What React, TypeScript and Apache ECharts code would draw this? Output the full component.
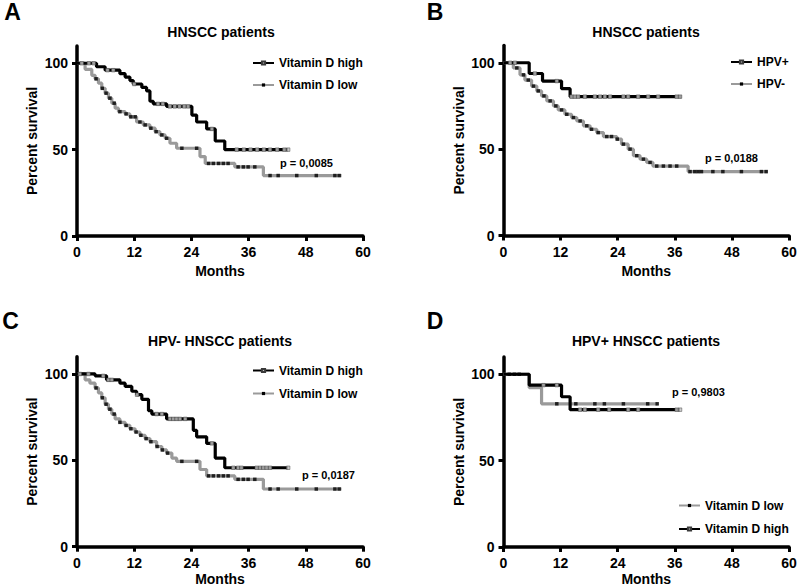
import React, { useEffect, useRef } from "react";
import * as echarts from "echarts";

const FONT = '"Liberation Sans", Arial, sans-serif';
const BLACK = "#000000";
const GRAY = "#9a9a9a";

const Y_TICKS = [0, 50, 100];
const X_MIN = 0;
const X_MAX = 60;
const X_STEP = 12;
const Y_MAX = 110;

// ---------- Panel A: HNSCC patients ----------
const A_HIGH_STEPS: number[][] = [
  [0, 100], [4.1, 98], [5.9, 96], [9, 94], [10.1, 92], [11.1, 90], [11.8, 88], [13.6, 86],
  [14.6, 84], [15.3, 78], [16, 76.5], [18.8, 75], [24.1, 70], [25.1, 66], [27.2, 62],
  [29, 55], [31, 50], [44.3, 50],
];
const A_HIGH_CENSOR = [1, 2.5, 3.5, 6.4, 7.6, 12, 17, 18, 19.5, 20.5, 21.5, 22.5, 23.3, 28.3, 33.5, 35, 36.4, 37.8, 39.2, 40.5, 42, 43.5, 44.3];
const A_LOW_STEPS: number[][] = [
  [0, 100], [1.7, 96.5], [3.1, 93], [3.8, 91], [4.5, 88.5], [5.2, 85.5], [5.9, 82.7], [6.6, 79.8],
  [7.3, 76.9], [8, 74], [8.7, 72], [10.1, 70.7], [11.1, 69], [12.5, 66], [13.9, 64.3], [15.3, 62.4],
  [16.4, 60.4], [17.4, 58.5], [18.5, 56.6], [19.5, 53.7], [20.9, 50.8], [25.8, 46], [26.9, 42],
  [33.1, 40], [39.1, 35], [55.5, 35],
];
const A_LOW_CENSOR = [4.0, 5.3, 6.1, 6.9, 7.8, 9.0, 10.3, 11.3, 12.2, 13.2, 14.3, 15.5, 16.6, 17.8, 18.8, 22, 25.1, 27.6, 28.6, 29.7, 30.7, 31.7, 33.8, 34.9, 35.9, 37.3, 40.5, 42.2, 46.1, 50.2, 54.1, 55];

// ---------- Panel B: HNSCC patients (HPV) ----------
const B_POS_STEPS: number[][] = [[0, 100], [5.4, 93.8], [8.2, 89.4], [12.2, 85], [14, 80.4], [37.4, 80.4]];
const B_POS_CENSOR = [1.4, 2.4, 6.6, 11.2, 14.3, 15, 15.7, 17.1, 19.2, 20.3, 21.3, 22.4, 25.2, 26.2, 28.3, 30.4, 32.5, 36.4, 37.1];
const B_NEG_STEPS: number[][] = [
  [0, 100], [2.07, 97], [3.47, 93], [4.5, 90], [5.9, 86.5], [7, 83.7], [8, 80.8], [9.1, 77.9],
  [10.5, 75], [11.5, 72.7], [12.9, 70.2], [14.3, 68.3], [15.4, 66.3], [16.8, 63.5], [18.2, 61.5],
  [19.6, 59.6], [21, 57.3], [23.8, 55.8], [24.8, 52.9], [26.2, 50], [27.3, 46.2], [28.7, 44.2],
  [30.1, 42.3], [31.4, 40.2], [38.8, 37], [55.5, 37],
];
const B_NEG_CENSOR = [2.8, 4.2, 5.2, 6.3, 7.3, 8.5, 9.8, 11, 12.2, 13.3, 14.7, 16.1, 17.5, 18.5, 19.9, 21.7, 22.7, 23.9, 25.2, 26.6, 28, 29.4, 30.8, 32.2, 33.6, 35, 36.4, 39.2, 40.2, 40.9, 41.6, 44, 46.1, 50, 54.2, 55.2];

// ---------- Panel C: HPV- HNSCC patients ----------
const C_HIGH_STEPS: number[][] = [
  [0, 100], [3.8, 98.9], [6.2, 96.6], [9, 94.7], [10.1, 92.8], [11.5, 90], [12.5, 88], [13.6, 85.3],
  [15, 78.7], [15.7, 76.8], [18.8, 74], [24.4, 67.4], [25.1, 63.6], [27.2, 59.8], [29, 51.3],
  [31, 45.7], [44.3, 45.7],
];
const C_HIGH_CENSOR = [0.6, 2.4, 5.5, 6.6, 7.3, 12.6, 16.7, 17.8, 19.5, 20.2, 20.9, 21.6, 22.7, 28.3, 32.8, 33.8, 34.5, 37.7, 38.4, 39.1, 39.8, 40.5, 44.3];
const C_LOW_STEPS: number[][] = [
  [0, 100], [1.7, 96.6], [2.7, 94.7], [3.8, 91.9], [4.5, 89], [5.2, 86.2], [5.9, 82.5], [6.6, 79.6],
  [7.3, 76.8], [8, 74], [9, 72], [10.1, 70.2], [11.1, 68.3], [12.2, 66.4], [13.2, 64.5], [14.3, 62.6],
  [15.3, 60.8], [16.7, 58], [17.8, 56], [18.8, 54.2], [19.9, 51.3], [20.9, 49.4], [25.8, 44.7],
  [27.2, 41], [33.1, 39], [39.1, 33.4], [55.5, 33.4],
];
const C_LOW_CENSOR = [4.0, 5.3, 6.1, 6.9, 7.8, 9.0, 10.3, 11.3, 12.4, 13.4, 14.5, 15.5, 16.8, 17.9, 19.0, 22, 25.1, 27.6, 28.6, 29.7, 30.7, 31.7, 33.8, 34.9, 35.9, 37.3, 40.5, 42.2, 46.1, 50.2, 54.1, 55];

// ---------- Panel D: HPV+ HNSCC patients ----------
const D_LOW_STEPS: number[][] = [[0, 100], [5.4, 92.2], [8, 82.9], [32.4, 82.9]];
const D_LOW_CENSOR = [1.2, 2.3, 3.3, 11.2, 15.2, 19.2, 21.2, 25.2, 30.3, 32.3];
const D_HIGH_STEPS: number[][] = [[0, 100], [5.4, 93.7], [12.2, 87], [14, 79.5], [37.1, 79.5]];
const D_HIGH_CENSOR = [8.4, 11.2, 16.1, 17.1, 19.9, 22.2, 26.2, 28.3, 36.4, 37.1];

const TITLES = ["HNSCC patients", "HNSCC patients", "HPV- HNSCC patients", "HPV+ HNSCC patients"];
const LETTERS = ["A", "B", "C", "D"];
const P_VALUES = ["p = 0,0085", "p = 0,0188", "p = 0,0187", "p = 0,9803"];
const LEGENDS = [
  ["Vitamin D high", "Vitamin D low"],
  ["HPV+", "HPV-"],
  ["Vitamin D high", "Vitamin D low"],
  ["Vitamin D low", "Vitamin D high"],
];

// layout (pixels)
const GRIDS = [
  { left: 77, top: 46, width: 286, height: 190 },
  { left: 503.5, top: 45.5, width: 285.5, height: 190 },
  { left: 77, top: 356.7, width: 286, height: 190 },
  { left: 503.5, top: 357, width: 285.5, height: 190 },
];
const X_NAME_GAP = [28, 28, 25, 25];
const TITLE_POS = [[221, 32], [646, 32], [220, 340.5], [646, 340.5]];
const LETTER_POS = [[12.5, 12], [435, 12], [10.5, 320.5], [435, 320.5]];
const P_POS = [[280, 163], [705, 158], [302, 475], [672, 392]];
const LEGEND_POS = [[252, 57], [730, 56], [252, 364.5], [678, 499.5]];
const LEGEND_GAP = [9, 9, 10, 10.5];

function survAt(steps: number[][], t: number) {
  let v = steps[0][1];
  for (const [x, y] of steps) if (x <= t) v = y;
  return v;
}

const HIGH_MARK = { color: "#c4c4c4", borderColor: "#3a3a3a", borderWidth: 0.6 };
const LOW_MARK = { color: "#000000" };

function lineSeries(name: string, steps: number[][], idx: number, dark: boolean) {
  return {
    type: "line",
    name,
    xAxisIndex: idx,
    yAxisIndex: idx,
    step: "end",
    data: steps,
    showSymbol: false,
    symbol: "rect",
    symbolSize: 4,
    lineStyle: { color: dark ? BLACK : GRAY, width: 3.2 },
    itemStyle: dark ? HIGH_MARK : LOW_MARK,
    z: dark ? 3 : 2,
    silent: true,
  };
}

function censorSeries(name: string, steps: number[][], censor: number[], idx: number, dark: boolean) {
  return {
    type: "scatter",
    name: name + " censored",
    xAxisIndex: idx,
    yAxisIndex: idx,
    data: censor.map((t) => [t, survAt(steps, t)]),
    symbol: "rect",
    symbolSize: 3.5,
    itemStyle: dark ? HIGH_MARK : LOW_MARK,
    z: 4,
    silent: true,
  };
}

export default function App() {
  const ref = useRef<HTMLDivElement>(null);
  useEffect(() => {
    document.body.style.margin = "0";
    if (!ref.current) return;
    const chart = echarts.init(ref.current, null, { renderer: "svg" });

    const axisCommon = {
      axisLine: { show: true, lineStyle: { color: BLACK, width: 3.5 } },
      axisTick: { show: true, length: 5, lineStyle: { color: BLACK, width: 3 } },
      splitLine: { show: false },
    };

    const xAxes = GRIDS.map((_, i) => ({
      type: "value",
      gridIndex: i,
      min: X_MIN,
      max: X_MAX,
      interval: X_STEP,
      name: "Months",
      nameLocation: "middle",
      nameGap: X_NAME_GAP[i],
      nameTextStyle: { fontFamily: FONT, fontWeight: "bold", fontSize: 14, color: BLACK },
      ...axisCommon,
      axisLabel: { fontFamily: FONT, fontWeight: "bold", fontSize: 14, color: BLACK, margin: 9 },
    }));

    const yAxes = GRIDS.map((_, i) => ({
      type: "value",
      gridIndex: i,
      min: 0,
      max: Y_MAX,
      interval: 50,
      name: "Percent survival",
      nameLocation: "middle",
      nameGap: 38,
      nameTextStyle: { fontFamily: FONT, fontWeight: "bold", fontSize: 14, color: BLACK },
      ...axisCommon,
      axisTick: { ...axisCommon.axisTick, customValues: Y_TICKS },
      axisLabel: {
        fontFamily: FONT, fontWeight: "bold", fontSize: 14, color: BLACK, margin: 9,
        customValues: Y_TICKS,
      },
    }));

    const series = [
      lineSeries("Vitamin D low", A_LOW_STEPS, 0, false),
      lineSeries("Vitamin D high", A_HIGH_STEPS, 0, true),
      censorSeries("A low", A_LOW_STEPS, A_LOW_CENSOR, 0, false),
      censorSeries("A high", A_HIGH_STEPS, A_HIGH_CENSOR, 0, true),

      lineSeries("HPV-", B_NEG_STEPS, 1, false),
      lineSeries("HPV+", B_POS_STEPS, 1, true),
      censorSeries("B neg", B_NEG_STEPS, B_NEG_CENSOR, 1, false),
      censorSeries("B pos", B_POS_STEPS, B_POS_CENSOR, 1, true),

      lineSeries("Vitamin D low", C_LOW_STEPS, 2, false),
      lineSeries("Vitamin D high", C_HIGH_STEPS, 2, true),
      censorSeries("C low", C_LOW_STEPS, C_LOW_CENSOR, 2, false),
      censorSeries("C high", C_HIGH_STEPS, C_HIGH_CENSOR, 2, true),

      lineSeries("Vitamin D low", D_LOW_STEPS, 3, false),
      lineSeries("Vitamin D high", D_HIGH_STEPS, 3, true),
      censorSeries("D low", D_LOW_STEPS, D_LOW_CENSOR, 3, false),
      censorSeries("D high", D_HIGH_STEPS, D_HIGH_CENSOR, 3, true),
    ];

    const legends = LEGENDS.map((names, i) => ({
      data: names,
      orient: "vertical",
      left: LEGEND_POS[i][0],
      top: LEGEND_POS[i][1],
      padding: 0,
      itemWidth: 21,
      itemHeight: 4,
      itemGap: LEGEND_GAP[i] + 1,
      selectedMode: false,
      textStyle: { fontFamily: FONT, fontWeight: "bold", fontSize: 12, color: BLACK },
    }));

    const texts: any[] = [];
    TITLES.forEach((t, i) => {
      texts.push({
        type: "text", x: TITLE_POS[i][0], y: TITLE_POS[i][1],
        style: { text: t, fill: BLACK, font: `bold 14px ${FONT}`, align: "center", verticalAlign: "middle", textAlign: "center", textVerticalAlign: "middle" },
      });
    });
    LETTERS.forEach((t, i) => {
      texts.push({
        type: "text", x: LETTER_POS[i][0], y: LETTER_POS[i][1],
        style: { text: t, fill: BLACK, font: `bold 23px ${FONT}`, align: "center", verticalAlign: "middle", textAlign: "center", textVerticalAlign: "middle" },
      });
    });
    P_VALUES.forEach((t, i) => {
      texts.push({
        type: "text", x: P_POS[i][0], y: P_POS[i][1],
        style: { text: t, fill: BLACK, font: `bold 11px ${FONT}`, align: "left", verticalAlign: "middle", textAlign: "left", textVerticalAlign: "middle" },
      });
    });

    chart.setOption({
      animation: false,
      backgroundColor: "#ffffff",
      grid: GRIDS.map((g) => ({ ...g, containLabel: false, outerBoundsMode: "none" })),
      xAxis: xAxes,
      yAxis: yAxes,
      legend: legends,
      series,
      graphic: texts,
    } as any);

    return () => chart.dispose();
  }, []);

  return (
    <div
      ref={ref}
      style={{ position: "absolute", left: 0, top: 0, width: 800, height: 587, background: "#fff" }}
    />
  );
}
